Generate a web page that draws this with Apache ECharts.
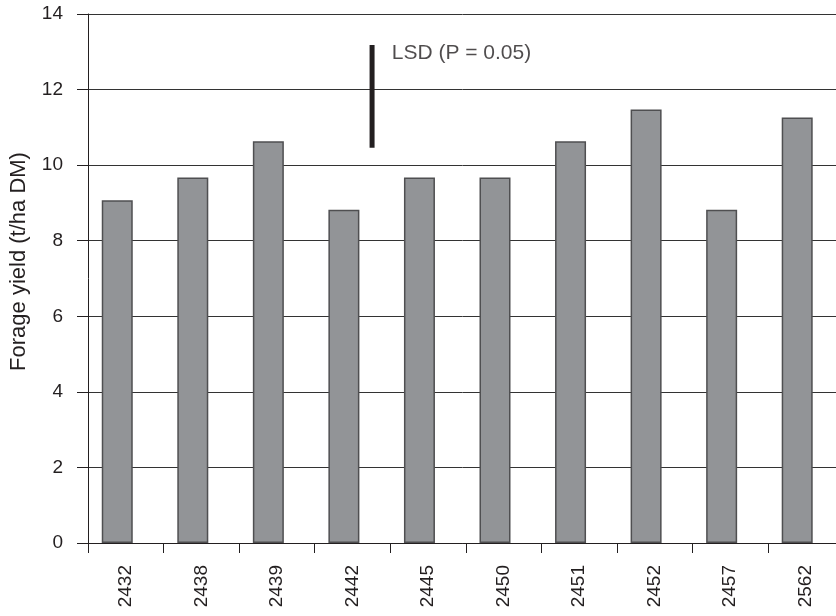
<!DOCTYPE html>
<html>
<head>
<meta charset="utf-8">
<script src="https://cdn.jsdelivr.net/npm/echarts@6/dist/echarts.min.js"></script>
<style>
  html, body { margin: 0; padding: 0; background: #fff; }
  #chart { width: 836px; height: 616px; }
</style>
</head>
<body>
<div id="chart"></div>
<script>
// lines / cultivars
const cultivars = ["2432", "2438", "2439", "2442", "2445", "2450", "2451", "2452", "2457", "2562"];
// forage yield, t/ha DM
const forageYield = [9.07, 9.67, 10.63, 8.82, 9.67, 9.67, 10.63, 11.47, 8.82, 11.26];
// LSD bar: position on a hidden 0-10 axis and its vertical range
const lsdX = [3.76, 3.76];
const lsdY = [10.46, 13.18];
const lsdLabel = "LSD (P = 0.05)";
const lsdLabelAt = [4.02, 12.95];

const textColor = "#231f20";
const font = "Liberation Sans, Arial, sans-serif";

const chart = echarts.init(document.getElementById("chart"));

const option = {
  animation: false,
  // plot runs past the right edge of the picture, as in the original
  grid: { left: 88, right: -7.5, top: 14, bottom: 73, outerBoundsMode: "none" },
  xAxis: [
    {
      type: "category",
      data: cultivars,
      axisLine: { lineStyle: { color: textColor, width: 1 } },
      axisTick: { show: true, length: 10, lineStyle: { color: textColor } },
      axisLabel: { rotate: 90, margin: 22, color: textColor, fontSize: 19, fontFamily: font },
      splitLine: { show: false },
    },
    {
      type: "value",
      min: 0,
      max: 10,
      show: false,
    },
  ],
  yAxis: {
    type: "value",
    min: 0,
    max: 14,
    interval: 2,
    name: "Forage yield (t/ha DM)",
    nameLocation: "middle",
    nameGap: 58,
    nameTextStyle: { color: textColor, fontSize: 22, fontFamily: font, padding: [0, 0, 0, 34] },
    axisLine: { show: true, lineStyle: { color: textColor, width: 1 } },
    axisTick: { show: true, length: 11, lineStyle: { color: textColor } },
    axisLabel: { margin: 25, color: textColor, fontSize: 19, fontFamily: font },
    splitLine: { lineStyle: { color: "#333333", width: 1 } },
  },
  series: [
    {
      type: "bar",
      data: forageYield,
      barWidth: 31,
      barGap: "-45%",
      itemStyle: { color: "#929497", borderColor: "#4f4f51", borderWidth: 1.5 },
    },
    {
      // empty slot so bars sit left of category centre, as in the original
      type: "bar",
      data: [],
      barWidth: 31,
    },
    {
      type: "line",
      xAxisIndex: 1,
      data: [[lsdX[0], lsdY[0]], [lsdX[1], lsdY[1]]],
      symbol: "none",
      lineStyle: { color: textColor, width: 5, cap: "butt" },
    },
    {
      type: "scatter",
      xAxisIndex: 1,
      symbolSize: 0,
      data: [lsdLabelAt],
      label: {
        show: true,
        position: "right",
        distance: 0,
        formatter: lsdLabel,
        color: textColor,
        fontSize: 21,
        fontFamily: font,
      },
    },
  ],
};

chart.setOption(option);
</script>
</body>
</html>
